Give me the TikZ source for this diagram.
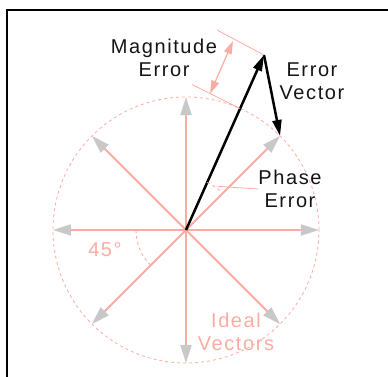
\documentclass[tikz,border=0pt]{standalone}
\usepackage{fontspec}
\setmainfont{Liberation Sans}[LetterSpace=8]
\usetikzlibrary{arrows.meta,calc}
\definecolor{salmon}{RGB}{250,172,162}
\definecolor{tipgray}{RGB}{200,200,200}
\definecolor{inkblack}{RGB}{20,20,20}

\begin{document}
\begin{tikzpicture}[x=1bp, y=1bp,
    ideal/.style={salmon, line width=2bp, -{Triangle[length=18bp,width=11bp,color=tipgray]}},
    errvec/.style={black, line width=2.5bp, -{Triangle[length=16bp,width=9bp]}},
    guide/.style={salmon, line width=0.8bp},
    dashguide/.style={salmon, line width=0.8bp, dash pattern=on 3bp off 3bp},
    dimarr/.style={salmon, line width=1.2bp, {Triangle[length=13bp,width=8bp]}-{Triangle[length=13bp,width=8bp]}},
    lbl/.style={align=center, font=\fontsize{20bp}{22.5bp}\selectfont, inner sep=0pt, text=inkblack},
    pinklbl/.style={lbl, text=salmon}
]
\useasboundingbox (-186,-147) rectangle (202,230);
% frame
\draw[line width=2bp] (-179,-150) -- (-179,220) -- (205,220);

% ideal vectors
\coordinate (O) at (0,0);
\draw[dashguide] (O) circle (133);
\foreach \a [count=\i from 0] in {0,45,...,315} {
  \coordinate (i\i) at (\a:133);
  \draw[ideal] (O) -- (i\i);
}

% measured vector and error vector
\coordinate (M) at (78,175);
\coordinate (R) at (66:133);
\draw[errvec] (O) -- (M);
\draw[errvec] (M) -- (i1);

% magnitude error
\draw[guide] ($(M)+(-47,25)$) -- (M);
\draw[guide] ($(R)+(-48,24)$) -- (R);
\draw[dimarr] ($(M)+(-31,14)$) -- ($(R)+(-30,15)$);

% angles
\draw[dashguide] (66:52) arc[start angle=66, end angle=45, radius=52];
\draw[dashguide] (180:50) arc[start angle=180, end angle=225, radius=50];

% labels
\node[lbl] (maglbl) at (-22,172) {Magnitude\\Error};
\node[lbl] (errlbl) at (126,149) {Error\\Vector};
\node[lbl] (phaselbl) at (104,41) {Phase\\Error};
\node[pinklbl] (anglbl) at (-81,-20) {45°};
\node[pinklbl] (ideallbl) at (50,-102) {Ideal\\Vectors};
\draw[guide] (54:54) -- (phaselbl.west);
\end{tikzpicture}
\end{document}
